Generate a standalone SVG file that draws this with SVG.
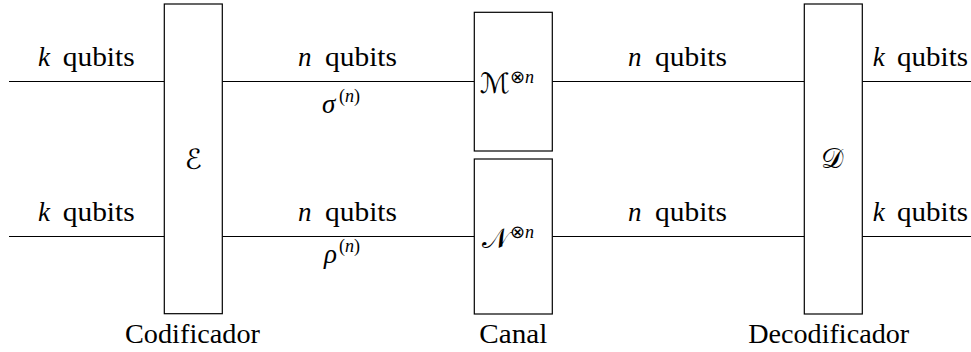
<svg xmlns="http://www.w3.org/2000/svg" width="971" height="352" viewBox="0 0 971 352">
<style>
.t{font-family:"Liberation Serif","Times New Roman",serif;font-size:27px;fill:#000}
.i{font-style:italic}
.s{font-size:18px}
.c{font-family:"DejaVu Serif","DejaVu Sans","Liberation Serif",serif;font-size:28px}
.box{fill:#fff;stroke:#000;stroke-width:1.2}
.w{stroke:#000;stroke-width:1.2;fill:none}
</style>
<rect width="971" height="352" fill="#fff"/>
<g id="connectors">
<line class="w" x1="9" y1="81.5" x2="164.3" y2="81.5"/>
<line class="w" x1="9" y1="236.5" x2="164.3" y2="236.5"/>
<line class="w" x1="222.3" y1="81.5" x2="474.3" y2="81.5"/>
<line class="w" x1="222.3" y1="236.5" x2="474.3" y2="236.5"/>
<line class="w" x1="552.3" y1="81.5" x2="804.3" y2="81.5"/>
<line class="w" x1="552.3" y1="236.5" x2="804.3" y2="236.5"/>
<line class="w" x1="862.3" y1="81.5" x2="971" y2="81.5"/>
<line class="w" x1="862.3" y1="236.5" x2="971" y2="236.5"/>
</g>
<g id="labels">
<text class="t i" x="38" y="66">k</text><text class="t" x="62.7" y="66" textLength="72" lengthAdjust="spacingAndGlyphs">qubits</text>
<text class="t i" x="38" y="221">k</text><text class="t" x="62.7" y="221" textLength="72" lengthAdjust="spacingAndGlyphs">qubits</text>
<text class="t i" x="298" y="66">n</text><text class="t" x="325" y="66" textLength="72" lengthAdjust="spacingAndGlyphs">qubits</text>
<text class="t i" x="298" y="221">n</text><text class="t" x="325" y="221" textLength="72" lengthAdjust="spacingAndGlyphs">qubits</text>
<text class="t i" x="628" y="66">n</text><text class="t" x="655" y="66" textLength="72" lengthAdjust="spacingAndGlyphs">qubits</text>
<text class="t i" x="628" y="221">n</text><text class="t" x="655" y="221" textLength="72" lengthAdjust="spacingAndGlyphs">qubits</text>
<text class="t i" x="872.7" y="66">k</text><text class="t" x="897" y="66" textLength="71" lengthAdjust="spacingAndGlyphs">qubits</text>
<text class="t i" x="872.7" y="221">k</text><text class="t" x="897" y="221" textLength="71" lengthAdjust="spacingAndGlyphs">qubits</text>
<text class="t i" x="322" y="113">σ</text><text class="t s" x="339" y="102">(<tspan class="i">n</tspan>)</text>
<text class="t i" x="324" y="263">ρ</text><text class="t s" x="339" y="252">(<tspan class="i">n</tspan>)</text>
</g>
<g id="E">
<rect class="box" x="164.3" y="4" width="58" height="309.7"/>
<text class="c" x="193.3" y="169" text-anchor="middle">ℰ</text>
<text class="t" x="192.5" y="343" text-anchor="middle" textLength="135" lengthAdjust="spacingAndGlyphs">Codificador</text>
</g>
<g id="M">
<rect class="box" x="474.3" y="12.3" width="78" height="138.7"/>
<text class="c" x="480" y="93">ℳ</text><text class="t s" x="510" y="83">⊗<tspan class="i">n</tspan></text>
</g>
<g id="N">
<rect class="box" x="474.3" y="159" width="78" height="155"/>
<text class="c" x="482" y="248">𝒩</text><text class="t s" x="510" y="238">⊗<tspan class="i">n</tspan></text>
<text class="t" x="513.3" y="343" text-anchor="middle" textLength="68" lengthAdjust="spacingAndGlyphs">Canal</text>
</g>
<g id="D">
<rect class="box" x="804.3" y="4" width="58" height="310"/>
<text class="c" x="831.7" y="168" text-anchor="middle">𝒟</text>
<text class="t" x="828.7" y="343" text-anchor="middle" textLength="161" lengthAdjust="spacingAndGlyphs">Decodificador</text>
</g>
</svg>
